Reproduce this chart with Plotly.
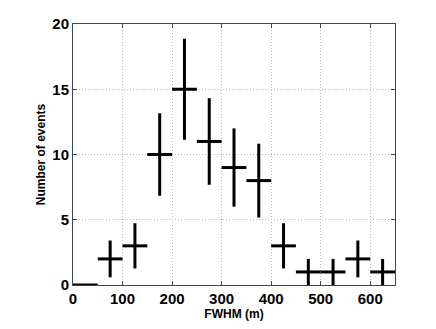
import plotly.graph_objects as go

# histogram of FWHM with Poisson error bars
bin_centers = [25, 75, 125, 175, 225, 275, 325, 375, 425, 475, 525, 575, 625]
counts = [0, 2, 3, 10, 15, 11, 9, 8, 3, 1, 1, 2, 1]
count_err = [0, 1.41, 1.73, 3.16, 3.87, 3.32, 3.0, 2.83, 1.73, 1.0, 1.0, 1.41, 1.0]
half_bin = [25] * len(bin_centers)

FONT = "Liberation Sans, Arial, sans-serif"

fig = go.Figure()
fig.add_trace(go.Scatter(
    x=bin_centers, y=counts, mode="markers",
    marker=dict(size=1, color="rgba(0,0,0,0)"),
    error_x=dict(type="data", array=half_bin, visible=True, color="black", thickness=3, width=0),
    error_y=dict(type="data", array=count_err, visible=True, color="black", thickness=3, width=0),
    cliponaxis=False, showlegend=False,
))

axis_common = dict(
    showline=True, linecolor="#444", linewidth=1, mirror="ticks",
    ticks="inside", ticklen=4, tickcolor="#444",
    showgrid=True, gridcolor="#bbbbbb", griddash="1px,2px", gridwidth=1,
    zeroline=False,
    tickfont=dict(family=FONT, size=15, color="black", weight="bold"),
)

fig.update_xaxes(range=[0, 650], dtick=100, tick0=0,
                 title=dict(text="FWHM (m)", standoff=1,
                            font=dict(family=FONT, size=12, color="black", weight="bold")),
                 **axis_common)
fig.update_yaxes(range=[0, 20], dtick=5, tick0=0,
                 title=dict(text="Number of events", standoff=4,
                            font=dict(family=FONT, size=12, color="black", weight="bold")),
                 **axis_common)

fig.update_layout(
    width=436, height=329,
    margin=dict(l=73, r=41, t=24, b=44),
    plot_bgcolor="white", paper_bgcolor="white",
)

# drop the browser's default body margin so the figure sits at the page corner
fig.write_html("out.html", config={"displayModeBar": False},
               post_script="document.body.style.margin='0px';")
